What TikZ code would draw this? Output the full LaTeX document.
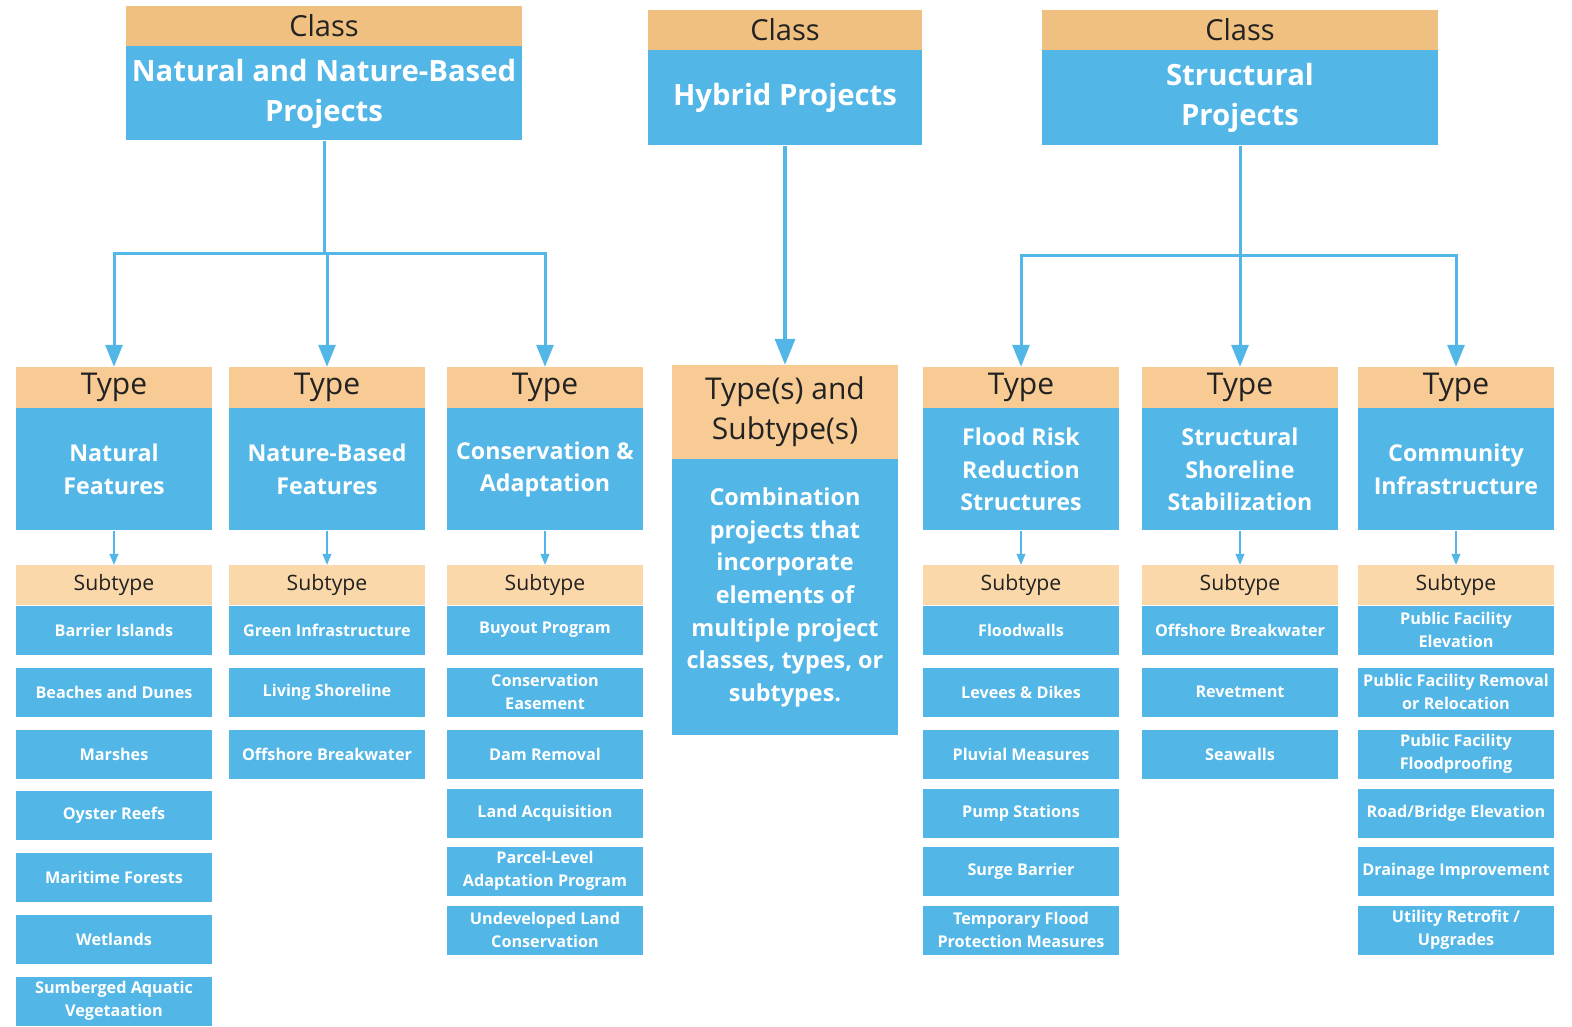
\documentclass[tikz,border=0pt]{standalone}
\usepackage{fontspec}
\setmainfont{Open Sans}
\usetikzlibrary{arrows.meta,positioning}
\definecolor{skyblue}{HTML}{52B6E7}
\definecolor{classtan}{HTML}{F0C080}
\definecolor{typetan}{HTML}{F8CA94}
\definecolor{subtan}{HTML}{FBD8A9}
\definecolor{inkgray}{HTML}{222222}
\tikzset{
  box/.style={rectangle, inner sep=0pt, align=center},
  classhead/.style={box, fill=classtan, text=inkgray, minimum height=40pt, font=\fontsize{29}{34}\selectfont},
  classbody/.style={box, fill=skyblue, text=white, font=\fontsize{29.3}{40}\selectfont\bfseries},
  typehead/.style={box, fill=typetan, text=inkgray, minimum width=196pt, minimum height=41pt, font=\fontsize{30}{40}\selectfont},
  typebody/.style={box, fill=skyblue, text=white, minimum width=196pt, minimum height=122pt, font=\fontsize{23.2}{32.3}\selectfont\bfseries},
  subhead/.style={box, fill=subtan, text=inkgray, minimum width=196pt, minimum height=40pt, font=\fontsize{21.2}{26}\selectfont},
  item/.style={box, fill=skyblue, text=white, minimum width=196pt, minimum height=49pt, font=\fontsize{16.2}{23}\selectfont\bfseries},
  trunk/.style={draw=skyblue, line width=3pt},
  bigarrow/.style={trunk, -{Triangle[width=17pt,length=22pt]}},
  smallarrow/.style={draw=skyblue, line width=1.2pt, -{Triangle[width=9pt,length=11pt]}}
}
\begin{document}
\begin{tikzpicture}[x=1pt,y=-1pt]
\useasboundingbox (0,0) rectangle (1572,1026);
% classes
\node[classhead, minimum width=396pt] (nat-c) at (324,26) {Class};
\node[classbody, minimum width=396pt, minimum height=94pt, below=0pt of nat-c] (nat-cb) {Natural and Nature-Based\\Projects};
\node[classhead, minimum width=274pt] (hyb-c) at (785,30) {Class};
\node[classbody, minimum width=274pt, minimum height=95pt, below=0pt of hyb-c] (hyb-cb) {Hybrid Projects};
\node[classhead, minimum width=396pt] (str-c) at (1240,30) {Class};
\node[classbody, minimum width=396pt, minimum height=95pt, below=0pt of str-c] (str-cb) {Structural\\Projects};
% types
\foreach \x/\n/\t in {114/natf/Natural\\Features, 327/nbf/Nature-Based\\Features, 545/cons/Conservation \&\\Adaptation,
    1021/flood/Flood Risk\\Reduction\\Structures, 1240/shore/Structural\\Shoreline\\Stabilization, 1456/comm/Community\\Infrastructure}{
  \node[typehead] (\n-h) at (\x,387.5) {Type};
  \node[typebody, below=0pt of \n-h] (\n-b) {\t};
  \node[subhead] (\n-s) at (\x,585) {Subtype};
  \draw[smallarrow] (\n-b.south) -- (\n-s.north);
}
% hybrid
\node[typehead, minimum width=226pt, minimum height=94pt] (hyb-h) at (785,412) {Type(s) and\\Subtype(s)};
\node[typebody, minimum width=226pt, minimum height=276pt, font=\fontsize{23.4}{32.6}\selectfont\bfseries, below=0pt of hyb-h] (hyb-b)
  {Combination\\projects that\\incorporate\\elements of\\multiple project\\classes, types, or\\subtypes.};
% subtypes
\foreach \y/\t [count=\i] in {630/Barrier Islands, 692/Beaches and Dunes, 754/Marshes, 815/Oyster Reefs,
    877/Maritime Forests, 939/Wetlands, 1001/Sumberged Aquatic\\Vegetaation}
  \node[item] (natf-\i) at (114,\y) {\t};
\foreach \y/\t [count=\i] in {630/Green Infrastructure, 692/Living Shoreline, 754/Offshore Breakwater}
  \node[item] (nbf-\i) at (327,\y) {\t};
\foreach \y/\t [count=\i] in {630/Buyout Program, 692/Conservation\\Easement, 754/Dam Removal, 813/Land Acquisition,
    871/Parcel-Level\\Adaptation Program, 930/Undeveloped Land\\Conservation}
  \node[item] (cons-\i) at (545,\y) {\t};
\foreach \y/\t [count=\i] in {630/Floodwalls, 692/Levees \& Dikes, 754/Pluvial Measures, 813/Pump Stations,
    871/Surge Barrier, 930/Temporary Flood\\Protection Measures}
  \node[item] (flood-\i) at (1021,\y) {\t};
\foreach \y/\t [count=\i] in {630/Offshore Breakwater, 692/Revetment, 754/Seawalls}
  \node[item] (shore-\i) at (1240,\y) {\t};
\foreach \y/\t [count=\i] in {630/Public Facility\\Elevation, 692/Public Facility Removal\\or Relocation, 754/Public Facility\\Floodproofing,
    813/{Road/Bridge Elevation}, 871/Drainage Improvement, 930/{Utility Retrofit /\\Upgrades}}
  \node[item] (comm-\i) at (1456,\y) {\t};
% connectors
\coordinate (nat-j) at (324,253);
\coordinate (str-j) at (1240,255);
\draw[trunk] (nat-cb.south) -- (nat-j);
\foreach \n in {natf,nbf,cons}
  \draw[bigarrow] (nat-j) -| (\n-h.north);
\draw[trunk] (str-cb.south) -- (str-j);
\foreach \n in {flood,shore,comm}
  \draw[bigarrow] (str-j) -| (\n-h.north);
\draw[trunk, line width=3.5pt, -{Triangle[width=20pt,length=26pt]}] (hyb-cb.south) -- (hyb-h.north);
\end{tikzpicture}
\end{document}
